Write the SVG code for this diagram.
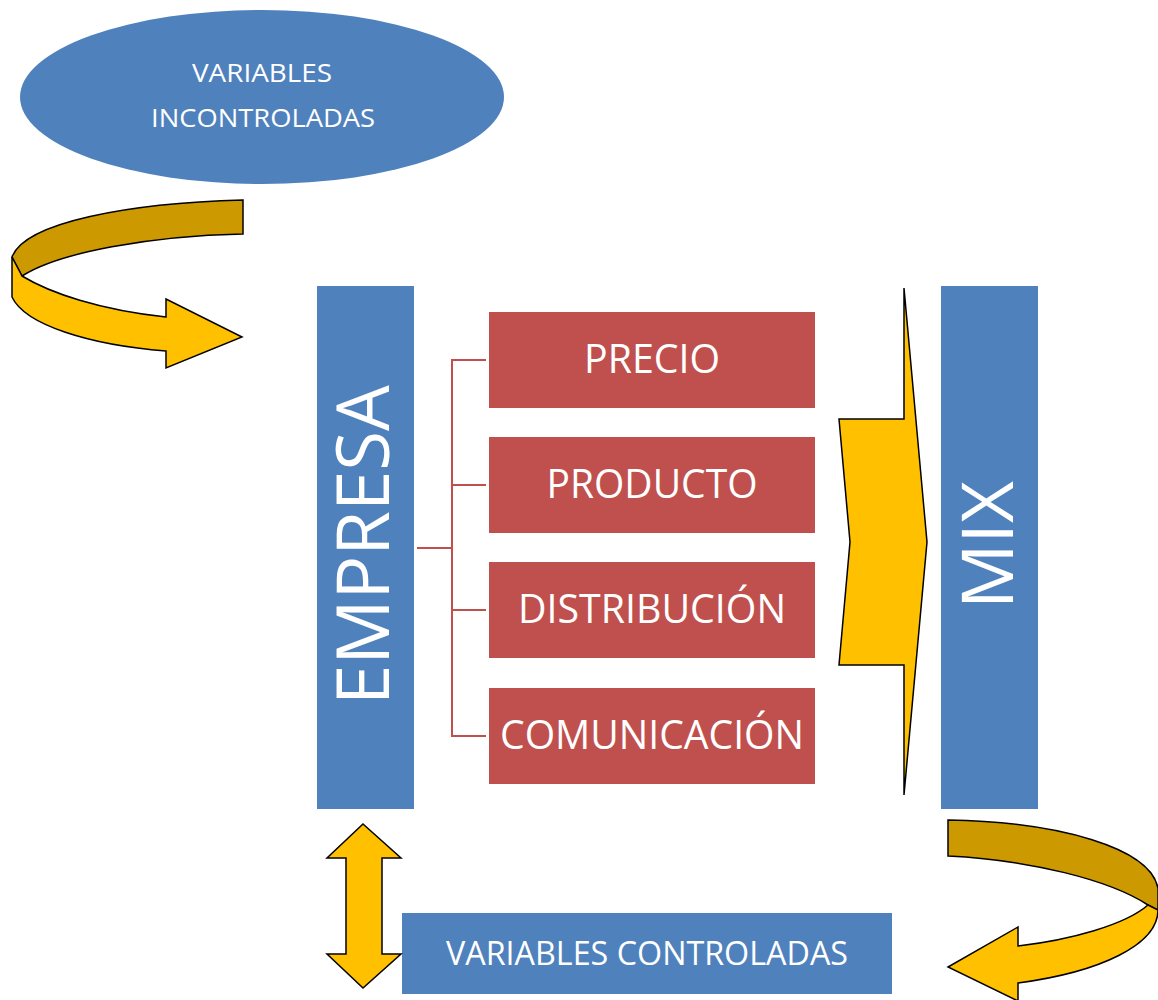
<svg xmlns="http://www.w3.org/2000/svg" width="1158" height="1000" viewBox="0 0 1158 1000">
<style>
.blue{fill:#4f81bd}
.red{fill:#c0504d}
.lbl{fill:#ffffff;font-family:"Open Sans","Liberation Sans",sans-serif;text-anchor:middle}
.gold{fill:#ffc000;stroke:#000;stroke-width:1.5;stroke-linejoin:miter}
.dgold{fill:#cc9900;stroke:#000;stroke-width:1.5}
.br{stroke:#c0504d;stroke-width:2;fill:none}
</style>
<rect width="1158" height="1000" fill="#fff"/>
<g id="variables-incontroladas">
<ellipse class="blue" cx="262" cy="97" rx="242" ry="87"/>
<text class="lbl" x="262" y="82" font-size="26" textLength="140" lengthAdjust="spacingAndGlyphs">VARIABLES</text>
<text class="lbl" x="263" y="127" font-size="26" textLength="224" lengthAdjust="spacingAndGlyphs">INCONTROLADAS</text>
</g>
<g id="empresa">
<rect class="blue" x="317" y="286" width="97" height="523"/>
<text class="lbl" transform="translate(389,545) rotate(-90)" x="0" y="0" font-size="73" textLength="320" lengthAdjust="spacingAndGlyphs">EMPRESA</text>
</g>
<g id="mix">
<rect class="blue" x="941" y="286" width="97" height="523"/>
<text class="lbl" transform="translate(1013,545) rotate(-90)" x="0" y="0" font-size="72" textLength="128" lengthAdjust="spacingAndGlyphs">MIX</text>
</g>
<g id="precio">
<rect class="red" x="489" y="312" width="326" height="96"/>
<text class="lbl" x="652" y="373" font-size="40" textLength="136" lengthAdjust="spacingAndGlyphs">PRECIO</text>
</g>
<g id="producto">
<rect class="red" x="489" y="437" width="326" height="96"/>
<text class="lbl" x="652" y="498" font-size="40" textLength="211" lengthAdjust="spacingAndGlyphs">PRODUCTO</text>
</g>
<g id="distribucion">
<rect class="red" x="489" y="562" width="326" height="96"/>
<text class="lbl" x="652" y="623" font-size="40" textLength="268" lengthAdjust="spacingAndGlyphs">DISTRIBUCIÓN</text>
</g>
<g id="comunicacion">
<rect class="red" x="489" y="688" width="326" height="96"/>
<text class="lbl" x="652" y="749" font-size="40" textLength="304" lengthAdjust="spacingAndGlyphs">COMUNICACIÓN</text>
</g>
<g id="variables-controladas">
<rect class="blue" x="402" y="913" width="490" height="81"/>
<text class="lbl" x="647" y="965" font-size="32" textLength="402" lengthAdjust="spacingAndGlyphs">VARIABLES CONTROLADAS</text>
</g>
<g id="connectors">
<path class="br" d="M417,548 H452 M486,360 H452 V736 H486 M452,485 H486 M452,610 H486"/>
<path class="dgold" d="M243,200 C130,203 25,222 12,257 L22,276 C60,252 150,236 243,234 Z"/>
<path class="gold" d="M12,257 L22,276 C50,293 100,310 166,317 L166,299 L242,337 L166,368 L166,351 C90,345 25,325 12,297 Z"/>
<polygon class="gold" points="904,288 927,542 904,795 904,665 839,665 850,542 839,419 904,419"/>
<path class="dgold" d="M948,820 C1060,822 1150,848 1158,888 L1158,910 L1148,905 C1110,880 1030,860 948,856 Z"/>
<path class="gold" d="M1148,905 L1158,910 C1158,945 1100,972 1018,983 L1018,1001 L948,967 L1018,927 L1018,946 C1070,940 1125,925 1148,905 Z"/>
<polygon class="gold" points="363,824 401,858 382,858 382,954 401,954 363,988 327,954 346,954 346,858 327,858"/>
</g>
</svg>
